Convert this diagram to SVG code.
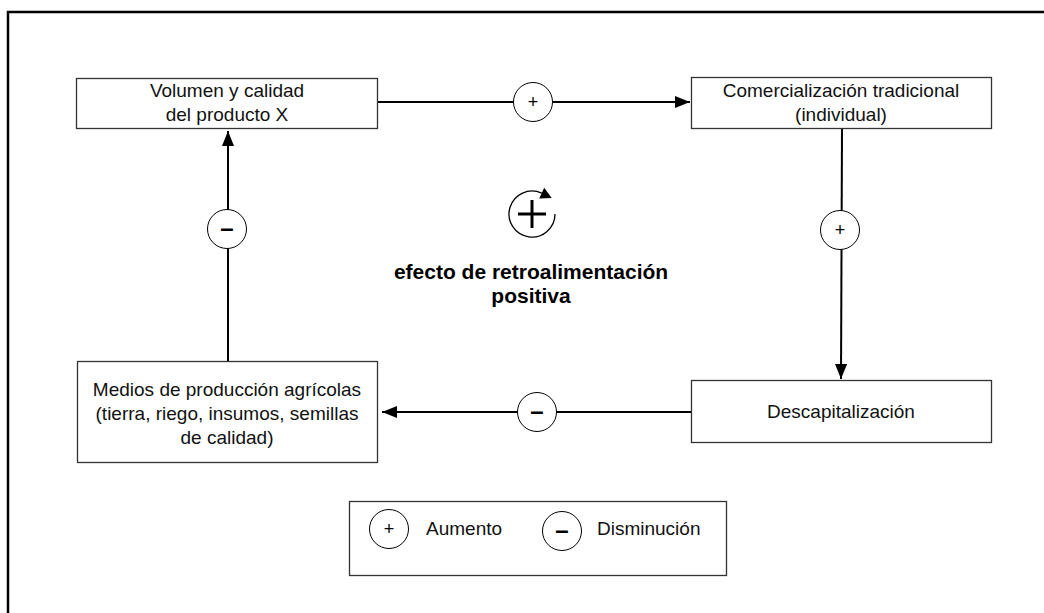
<svg xmlns="http://www.w3.org/2000/svg" width="1044" height="613" viewBox="0 0 1044 613">
<style>
  .box { fill: #ffffff; stroke: #333333; stroke-width: 1.3; }
  .lbl { font-family: "Liberation Sans", Arial, sans-serif; font-size: 19px; fill: #111111; text-anchor: middle; }
  .leg { font-family: "Liberation Sans", Arial, sans-serif; font-size: 19px; fill: #111111; }
  .bold { font-family: "Liberation Sans", Arial, sans-serif; font-size: 21px; font-weight: bold; fill: #000000; text-anchor: middle; }
  .conn { stroke: #000000; stroke-width: 2; fill: none; }
  .sgn { fill: #ffffff; stroke: #000000; stroke-width: 1; }
  .plus { font-family: "Liberation Sans", Arial, sans-serif; font-size: 18px; fill: #000000; text-anchor: middle; }
  .minus { font-family: "Liberation Sans", Arial, sans-serif; font-size: 24px; font-weight: bold; fill: #000000; text-anchor: middle; }
</style>
<defs>
  <marker id="arr" markerUnits="userSpaceOnUse" markerWidth="16" markerHeight="12" refX="15" refY="6" orient="auto">
    <path d="M0,0 L15,6 L0,12 z" fill="#000000"/>
  </marker>
</defs>
<rect x="0" y="0" width="1044" height="613" fill="#ffffff"/>
<path d="M8,613 V12 H1044" fill="none" stroke="#000000" stroke-width="2.5"/>

<g id="connectors">
  <line class="conn" x1="378" y1="102" x2="690" y2="102" marker-end="url(#arr)"/>
  <line class="conn" x1="842" y1="128" x2="841" y2="379" marker-end="url(#arr)"/>
  <line class="conn" x1="691" y1="412" x2="382" y2="412" marker-end="url(#arr)"/>
  <line class="conn" x1="228" y1="361" x2="228" y2="131" marker-end="url(#arr)"/>
  <g id="sign1"><circle class="sgn" cx="533" cy="102" r="19.5"/><text class="plus" x="533" y="108">+</text></g>
  <g id="sign2"><circle class="sgn" cx="840" cy="230" r="19.5"/><text class="plus" x="840" y="236">+</text></g>
  <g id="sign3"><circle class="sgn" cx="537" cy="412" r="19.5"/><text class="minus" x="537" y="419">–</text></g>
  <g id="sign4"><circle class="sgn" cx="227" cy="229" r="19.5"/><text class="minus" x="227" y="236">–</text></g>
</g>

<g id="node-volumen">
  <rect class="box" x="76.5" y="78.5" width="301" height="50"/>
  <text class="lbl" x="227" y="97">Volumen y calidad</text>
  <text class="lbl" x="227" y="121">del producto X</text>
</g>
<g id="node-comercializacion">
  <rect class="box" x="691.5" y="77.5" width="300" height="51"/>
  <text class="lbl" x="841" y="97">Comercialización tradicional</text>
  <text class="lbl" x="841" y="121">(individual)</text>
</g>
<g id="node-descapitalizacion">
  <rect class="box" x="691.5" y="380.5" width="300" height="62"/>
  <text class="lbl" x="841" y="418">Descapitalización</text>
</g>
<g id="node-medios">
  <rect class="box" x="77.5" y="361.5" width="300" height="101"/>
  <text class="lbl" x="227" y="396">Medios de producción agrícolas</text>
  <text class="lbl" x="227" y="420">(tierra, riego, insumos, semillas</text>
  <text class="lbl" x="227" y="444">de calidad)</text>
</g>

<g id="loop-icon">
  <path d="M555,214 A23,23 0 1 1 541.7,193.2" fill="none" stroke="#000000" stroke-width="1.3"/>
  <polygon points="551.7,197.9 539.2,198.6 544.2,187.8" fill="#000000"/>
  <line x1="518" y1="214" x2="546" y2="214" stroke="#000000" stroke-width="3"/>
  <line x1="532" y1="200" x2="532" y2="228" stroke="#000000" stroke-width="3"/>
</g>
<g id="loop-label">
  <text class="bold" x="531" y="279">efecto de retroalimentación</text>
  <text class="bold" x="531" y="303">positiva</text>
</g>

<g id="legend">
  <rect class="box" x="349.5" y="501.5" width="377" height="74"/>
  <circle class="sgn" cx="389" cy="529" r="19.5"/>
  <text class="plus" x="389" y="535">+</text>
  <text class="leg" x="426" y="535">Aumento</text>
  <circle class="sgn" cx="562" cy="531" r="19.5"/>
  <text class="minus" x="562" y="538">–</text>
  <text class="leg" x="597" y="535">Disminución</text>
</g>
</svg>
